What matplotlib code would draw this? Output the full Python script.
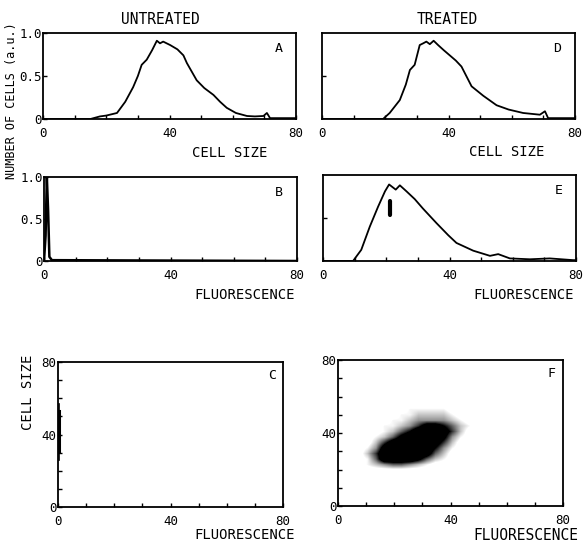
import numpy as np
import matplotlib
matplotlib.use('Agg')
import matplotlib.pyplot as plt
from matplotlib.ticker import MultipleLocator, FixedLocator

plt.rcParams['font.family'] = ['DejaVu Sans Mono', 'DejaVu Sans']
plt.rcParams['font.size'] = 10

# histogram curves (x = channel, y = number of cells, a.u.)
a_x = [0, 10, 15, 16, 18, 20, 23.4, 26, 28.5, 30, 31.2, 32.8, 34.5, 36, 37, 38, 40.2,
       42.5, 44.4, 45.5, 48.6, 51, 53.9, 56, 58.1, 61, 64.5, 67, 69.7, 70.8, 71.8, 75, 80]
a_y = [0, 0, 0, 0.01, 0.03, 0.04, 0.07, 0.2, 0.37, 0.5, 0.63, 0.69, 0.8, 0.91, 0.88, 0.9, 0.86,
       0.81, 0.74, 0.65, 0.45, 0.36, 0.28, 0.2, 0.13, 0.07, 0.035, 0.03, 0.035, 0.07, 0.01, 0.01, 0.01]

d_x = [0, 10, 19.3, 21.4, 24.6, 26.5, 27.8, 29.3, 30.9, 32, 33, 34.1, 35.3, 36.7, 38.5, 40.4,
       42.3, 44.1, 47.3, 51, 55.2, 59, 63.6, 68.9, 70.5, 71.5, 75, 80]
d_y = [0, 0, 0.0, 0.07, 0.22, 0.4, 0.57, 0.63, 0.86, 0.88, 0.90, 0.87, 0.91, 0.86, 0.8, 0.74,
       0.68, 0.61, 0.38, 0.27, 0.16, 0.11, 0.07, 0.05, 0.09, 0.01, 0.01, 0.01]

b_x = [0, 0.5, 0.9, 1.3, 1.7, 2.5, 80]
b_y = [0, 0.3, 1.0, 0.6, 0.05, 0.01, 0]

e_x = [0, 9.5, 12.1, 14.8, 17.4, 19.6, 20.9, 23.0, 24.3, 26.4, 29, 31.6, 35.9, 39.6, 42.2,
       47.5, 52.8, 55.4, 59.1, 65.4, 71.7, 79.1, 80]
e_y = [0, 0, 0.13, 0.40, 0.63, 0.81, 0.89, 0.83, 0.88, 0.81, 0.72, 0.61, 0.44, 0.30, 0.21,
       0.12, 0.06, 0.08, 0.03, 0.02, 0.03, 0.01, 0.01]
e_mark_x = 21.1
e_mark_y = [0.54, 0.70]

# dot plot C: untreated cells sit on the fluorescence = 0 line
c_x = 0.4
c_y_range = [26, 57]
c_y_dense = [31, 53]

# dot plot F: density grid (0-9), rows from cell size 57 down to 18, columns fluorescence 6..51
f_extent = [6, 51, 18, 57]
f_density = [
    [0, 0, 0, 0, 0, 0, 0, 0, 0, 0, 0, 0, 0, 0, 0],
    [0, 0, 0, 0, 0, 0, 1, 1, 1, 1, 1, 0, 0, 0, 0],
    [0, 0, 0, 0, 0, 1, 1, 2, 2, 2, 2, 1, 0, 0, 0],
    [0, 0, 0, 0, 1, 1, 2, 3, 3, 3, 3, 2, 1, 0, 0],
    [0, 0, 0, 1, 1, 2, 3, 5, 8, 8, 6, 4, 2, 1, 0],
    [0, 0, 0, 1, 2, 4, 6, 9, 9, 9, 8, 5, 2, 0, 0],
    [0, 0, 1, 2, 4, 7, 9, 9, 9, 9, 7, 3, 1, 0, 0],
    [0, 0, 2, 5, 8, 9, 9, 9, 9, 8, 5, 2, 0, 0, 0],
    [0, 1, 3, 8, 9, 9, 9, 9, 9, 6, 3, 1, 0, 0, 0],
    [0, 2, 5, 9, 9, 9, 9, 9, 8, 4, 2, 0, 0, 0, 0],
    [0, 1, 4, 9, 9, 9, 9, 7, 4, 2, 1, 0, 0, 0, 0],
    [0, 1, 2, 3, 4, 4, 3, 2, 1, 0, 0, 0, 0, 0, 0],
    [0, 0, 0, 0, 0, 0, 0, 0, 0, 0, 0, 0, 0, 0, 0],
]

fig = plt.figure(figsize=(5.84, 5.43), dpi=100)
W, H = 584, 543


def add_ax(left, top, right, bottom):
    # pixel box -> figure fraction
    return fig.add_axes([left / W, 1 - bottom / H, (right - left) / W, (bottom - top) / H])


def style(ax, ymax, yminor):
    ax.set_xlim(0, 80)
    ax.set_ylim(0, ymax)
    ax.xaxis.set_major_locator(FixedLocator([0, 40, 80]))
    ax.xaxis.set_minor_locator(MultipleLocator(10))
    ax.set_xticklabels(['0', '40', '80'])
    ax.tick_params(which='both', direction='in', length=3, width=1, labelsize=9)
    ax.tick_params(axis='x', pad=6)
    ax.tick_params(axis='y', pad=1)
    ax.yaxis.set_minor_locator(FixedLocator(yminor))
    for s in ax.spines.values():
        s.set_linewidth(1.3)


ax_a = add_ax(43, 33, 296, 119)
ax_d = add_ax(322, 33, 575, 119)
ax_b = add_ax(44, 177, 297, 261)
ax_e = add_ax(323, 175, 576, 261)
ax_c = add_ax(58, 362, 283, 507)
ax_f = add_ax(338, 360, 563, 506)

for ax in (ax_a, ax_b):
    style(ax, 1.0, [])
    ax.set_yticks([0, 0.5, 1.0])
    ax.set_yticklabels(['0', '0.5', '1.0'])
for ax in (ax_d, ax_e):
    style(ax, 1.0, [])
    ax.set_yticks([0.5])
    ax.set_yticklabels([''])

for ax in (ax_c, ax_f):
    style(ax, 80, list(range(10, 80, 10)))
    ax.set_yticks([0, 40, 80])
    ax.set_yticklabels(['0', '40', '80'])

lw = 1.3
ax_a.plot(a_x, a_y, color='black', lw=lw)
ax_d.plot(d_x, d_y, color='black', lw=lw)
ax_b.plot(b_x, b_y, color='black', lw=lw + 0.5)
ax_e.plot(e_x, e_y, color='black', lw=lw)
ax_e.plot([e_mark_x, e_mark_x], e_mark_y, color='black', lw=3, solid_capstyle='round')

ax_c.plot([c_x, c_x], c_y_range, color='black', lw=1.2)
ax_c.plot([c_x, c_x], c_y_dense, color='black', lw=2.2)

ax_f.imshow(np.array(f_density), extent=f_extent, origin='upper', cmap='gray_r',
            vmin=0.8, vmax=6, interpolation='bilinear', aspect='auto', zorder=1)
ax_f.set_xlim(0, 80)
ax_f.set_ylim(0, 80)

# panel letters
for ax, letter in ((ax_a, 'A'), (ax_d, 'D'), (ax_b, 'B'), (ax_e, 'E')):
    ax.text(0.93, 0.82, letter, transform=ax.transAxes, ha='center', va='center', fontsize=9.5)
for ax, letter in ((ax_c, 'C'), (ax_f, 'F')):
    ax.text(0.95, 0.91, letter, transform=ax.transAxes, ha='center', va='center', fontsize=9.5)

# column titles and axis names
fig.text(160 / W, 1 - 20 / H, 'UNTREATED', ha='center', va='center', fontsize=10.5)
fig.text(447 / W, 1 - 20 / H, 'TREATED', ha='center', va='center', fontsize=10.5)
fig.text(12 / W, 1 - 101 / H, 'NUMBER OF CELLS (a.u.)', rotation=90,
         ha='center', va='center', fontsize=8.5)
fig.text(230 / W, 1 - 153 / H, 'CELL SIZE', ha='center', va='center', fontsize=10)
fig.text(507 / W, 1 - 152 / H, 'CELL SIZE', ha='center', va='center', fontsize=10)
fig.text(245 / W, 1 - 295 / H, 'FLUORESCENCE', ha='center', va='center', fontsize=10)
fig.text(524 / W, 1 - 295 / H, 'FLUORESCENCE', ha='center', va='center', fontsize=10)
fig.text(245 / W, 1 - 535 / H, 'FLUORESCENCE', ha='center', va='center', fontsize=10)
fig.text(526 / W, 1 - 535 / H, 'FLUORESCENCE', ha='center', va='center', fontsize=10.5)
fig.text(28 / W, 1 - 392 / H, 'CELL SIZE', rotation=90, ha='center', va='center', fontsize=10)

fig.savefig('out.png', dpi=100)
